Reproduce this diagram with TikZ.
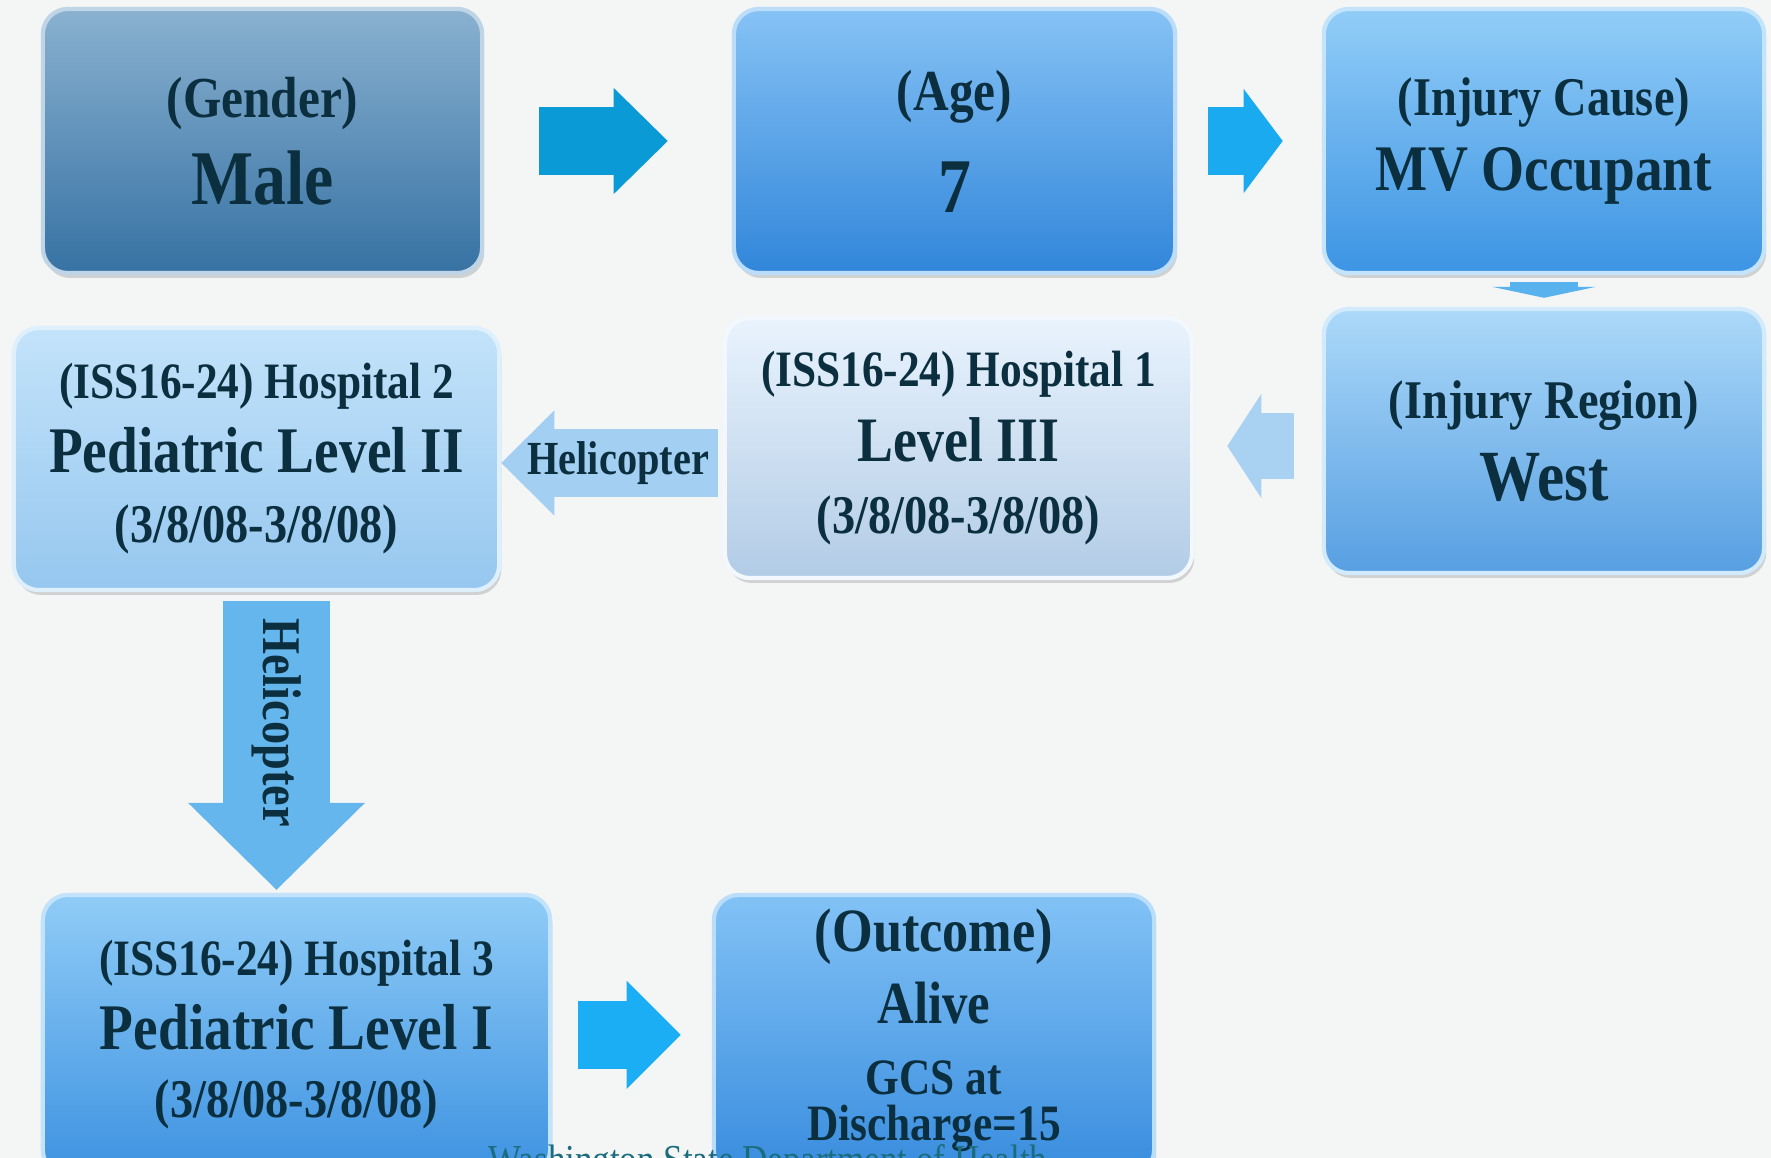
\documentclass[tikz,border=0pt]{standalone}
\usepackage{fontspec}
\setmainfont{Liberation Serif}[FakeStretch=0.85]
\usetikzlibrary{arrows.meta, positioning, shadows}

\definecolor{ink}{HTML}{0B2F3E}
\definecolor{paper}{HTML}{F4F5F5}
\definecolor{footteal}{HTML}{1B6D7E}
% tile colours (top / bottom)
\definecolor{genderT}{HTML}{8AB1D0}  \definecolor{genderB}{HTML}{3672A3}
\definecolor{ageT}{HTML}{86C2F5}     \definecolor{ageB}{HTML}{3186DA}
\definecolor{causeT}{HTML}{92CDF8}   \definecolor{causeB}{HTML}{3C94E3}
\definecolor{regionT}{HTML}{ACD9F9}  \definecolor{regionB}{HTML}{579FE2}
\definecolor{hospAT}{HTML}{E9F3FD}   \definecolor{hospAB}{HTML}{B2CCE6}
\definecolor{hospBT}{HTML}{C3E3FA}   \definecolor{hospBB}{HTML}{96C7EF}
\definecolor{hospCT}{HTML}{90CCF7}   \definecolor{hospCB}{HTML}{3D92E1}
\definecolor{outT}{HTML}{82C2F6}     \definecolor{outB}{HTML}{388CDE}
% arrow colours
\definecolor{arrA}{HTML}{0A9AD6}
\definecolor{arrB}{HTML}{1AAAF0}
\definecolor{arrC}{HTML}{58B2EE}
\definecolor{arrD}{HTML}{A9D1F2}
\definecolor{arrE}{HTML}{A3CFF2}
\definecolor{arrF}{HTML}{66B6EE}
\definecolor{arrG}{HTML}{1CAEF4}

\newcommand\sz[1]{\fontsize{#1}{1.15\dimexpr #1pt\relax}\selectfont}

\tikzset{
  tile/.style 2 args={draw=#1!55!white, line width=1.2pt, rounded corners=0.25cm,
                      top color=#1, bottom color=#2, align=center, text=ink,
                      font=\bfseries, inner sep=2pt,
                      drop shadow={opacity=0.3, shadow xshift=0.6pt, shadow yshift=-1.4pt}},
  flow/.style n args={4}{draw=#1, line width=#2,
                      -{Triangle[width=#3, length=#4, line width=0pt]}},
  flowlabel/.style={text=ink, font=\bfseries\sz{13.5}, inner sep=0pt}
}

\begin{document}
\begin{tikzpicture}[x=0.01cm, y=-0.01cm]

\useasboundingbox[fill=paper] (0,0) rectangle (1771,1158);

% Boxes, first row
\node[tile={genderT}{genderB}, minimum width=4.39cm, minimum height=2.64cm] (gender) at (262.5,141)
  {{\sz{16.5}(Gender)}\\[5pt]{\sz{22}Male}};
\node[tile={ageT}{ageB}, minimum width=4.41cm, minimum height=2.64cm] (age) at (954.5,141)
  {{\sz{16.5}(Age)}\\[10pt]{\sz{22}7}};
\node[tile={causeT}{causeB}, minimum width=4.40cm, minimum height=2.64cm] (cause) at (1544,141)
  {{\sz{15.5}(Injury Cause)}\\[4.5pt]{\sz{18.5}MV Occupant}};

% Boxes, second row
\node[tile={regionT}{regionB}, minimum width=4.40cm, minimum height=2.64cm] (region) at (1544,441)
  {{\sz{15.5}(Injury Region)}\\[5.5pt]{\sz{20.5}West}};
\node[tile={hospAT}{hospAB}, minimum width=4.67cm, minimum height=2.60cm] (hosp1) at (958.5,448)
  {{\sz{14.5}(ISS16-24) Hospital 1}\\[4.8pt]{\sz{18}Level III}\\[8.4pt]{\sz{15.5}(3/8/08-3/8/08)}};
\node[tile={hospBT}{hospBB}, minimum width=4.85cm, minimum height=2.62cm] (hosp2) at (256.5,459)
  {{\sz{14.5}(ISS16-24) Hospital 2}\\[3.9pt]{\sz{18.5}Pediatric Level II}\\[8.1pt]{\sz{15.5}(3/8/08-3/8/08)}};

% Boxes, third row
\node[tile={hospCT}{hospCB}, minimum width=5.07cm, minimum height=2.80cm] (hosp3) at (296.5,1035)
  {{\sz{14.5}(ISS16-24) Hospital 3}\\[3.9pt]{\sz{18.5}Pediatric Level I}\\[7.5pt]{\sz{15.5}(3/8/08-3/8/08)}};
\node[tile={outT}{outB}, minimum width=4.40cm, minimum height=2.80cm, text depth=0.2cm] (outcome) at (934,1035)
  {{\sz{17.5}(Outcome)}\\[3.9pt]{\sz{17}Alive}\\[8.1pt]{\sz{14.5}GCS at}\\[1.2pt]{\sz{14.5}Discharge=15}};

% Arrows
\draw[flow={arrA}{0.68cm}{1.06cm}{0.54cm}] ([xshift=0.55cm]gender.east) -- ([xshift=-0.64cm]age.west);
\draw[flow={arrB}{0.68cm}{1.04cm}{0.39cm}] ([xshift=0.31cm]age.east) -- ([xshift=-0.39cm]cause.west);
\draw[flow={arrC}{0.68cm}{1.04cm}{0.11cm}] ([yshift=-0.07cm]cause.south) -- ([yshift=0.09cm]cause.south |- region.north);
\draw[flow={arrD}{0.66cm}{1.04cm}{0.34cm}] ([xshift=-0.28cm, yshift=-0.05cm]region.west) -- ([xshift=0.33cm, yshift=-0.05cm]region.west -| hosp1.east);
\draw[flow={arrE}{0.68cm}{1.05cm}{0.53cm}] ([xshift=-0.05cm, yshift=-0.15cm]hosp1.west) -- ([yshift=-0.15cm]hosp1.west -| hosp2.east)
  node[flowlabel, pos=0.46] {Helicopter};
\draw[flow={arrF}{1.06cm}{1.77cm}{0.87cm}] ([xshift=0.2cm, yshift=-0.09cm]hosp2.south) -- ([xshift=0.2cm, yshift=0.03cm]hosp2.south |- hosp3.north)
  node[flowlabel, font=\bfseries\sz{15.5}, pos=0.42, rotate=-90] {Helicopter};
\draw[flow={arrG}{0.68cm}{1.08cm}{0.54cm}] ([xshift=0.26cm]hosp3.east) -- ([xshift=-0.31cm]outcome.west);

% Footer
\node[anchor=base west, text=footteal, font=\sz{11.7}, inner sep=0pt] (footer) at (488,1174)
  {Washington State Department of Health};

\end{tikzpicture}
\end{document}
